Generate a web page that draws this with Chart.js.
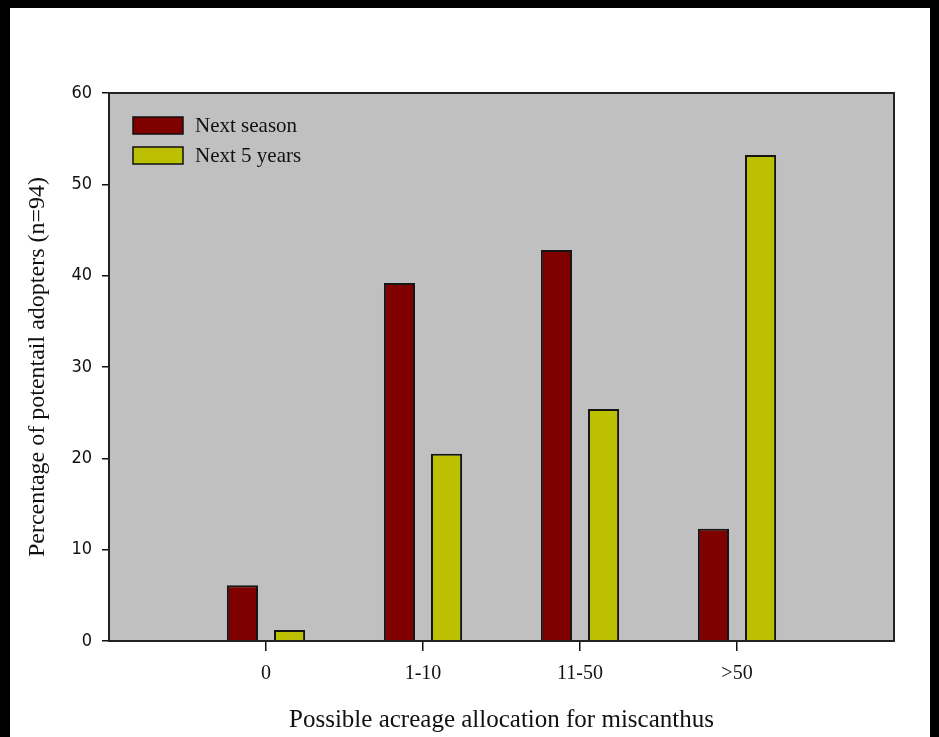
<!DOCTYPE html>
<html>
<head>
<meta charset="utf-8">
<script src="https://cdn.jsdelivr.net/npm/chart.js@4"></script>
<style>
  html, body { margin: 0; padding: 0; background: #000; }
  #frame { position: absolute; left: 10px; top: 8px; width: 920px; height: 729px; background: #fff; }
</style>
</head>
<body>
<div id="frame"><canvas id="acreageChart"></canvas></div>
<script>
// categories on the x axis
const categories = ["0", "1-10", "11-50", ">50"];
// percentage of potential adopters for each category
const nextSeason = [6.1, 39.2, 42.8, 12.3];
const nextFiveYears = [1.2, 20.5, 25.4, 53.2];
const seriesNames = ["Next season", "Next 5 years"];
const yTicks = [0, 10, 20, 30, 40, 50, 60];

// the axis has an empty slot at each end, so pad the labels
const labels = ["", ...categories, ""];
const pad = (arr) => [null, ...arr, null];

const serif = "'Liberation Serif', 'Times New Roman', serif";

// gray plot area, frame and the legend inside it
const plotArea = {
  id: "plotArea",
  beforeDraw(chart) {
    const { ctx, chartArea: a } = chart;
    ctx.save();
    ctx.fillStyle = "#c0c0c0";
    ctx.fillRect(a.left, a.top, a.right - a.left, a.bottom - a.top);
    ctx.restore();
  },
  afterDatasetsDraw(chart) {
    const { ctx, chartArea: a } = chart;
    ctx.save();
    ctx.strokeStyle = "#222";
    ctx.lineWidth = 2;
    ctx.strokeRect(a.left, a.top, a.right - a.left, a.bottom - a.top);

    // legend
    ctx.font = "21px " + serif;
    ctx.textBaseline = "middle";
    ctx.textAlign = "left";
    chart.data.datasets.forEach((ds, i) => {
      const x = a.left + 24;
      const y = a.top + 24 + i * 30;
      ctx.fillStyle = ds.backgroundColor;
      ctx.fillRect(x, y, 50, 17);
      ctx.lineWidth = 1.5;
      ctx.strokeStyle = "#111";
      ctx.strokeRect(x, y, 50, 17);
      ctx.fillStyle = "#111";
      ctx.fillText(ds.label, x + 62, y + 9);
    });
    ctx.restore();
  }
};

const config = {
  type: "bar",
  data: {
    labels: labels,
    datasets: [
      {
        label: seriesNames[0],
        data: pad(nextSeason),
        backgroundColor: "#800000",
        borderColor: "#151515",
        borderWidth: 2,
        categoryPercentage: 0.6,
        barPercentage: 0.66,
      },
      {
        label: seriesNames[1],
        data: pad(nextFiveYears),
        backgroundColor: "#bcc000",
        borderColor: "#151515",
        borderWidth: 2,
        categoryPercentage: 0.6,
        barPercentage: 0.66,
      },
    ],
  },
  options: {
    responsive: true,
    maintainAspectRatio: false,
    animation: false,
    layout: { padding: { left: 0, top: 85, right: 36, bottom: 0 } },
    plugins: {
      legend: { display: false },
      tooltip: { enabled: false },
    },
    scales: {
      x: {
        offset: false,
        grid: {
          offset: false,
          drawOnChartArea: false,
          drawTicks: true,
          tickLength: 10,
          lineWidth: 1.5,
          color: (c) => (c.index === 0 || c.index === labels.length - 1 ? "transparent" : "#111"),
        },
        border: { display: false },
        ticks: { color: "#111", padding: 11, maxRotation: 0, autoSkip: false, font: { family: serif, size: 20 } },
        title: {
          display: true,
          text: "Possible acreage allocation for miscanthus",
          color: "#111",
          font: { family: serif, size: 25 },
          padding: { top: 0, bottom: 2 },
        },
        afterFit: (s) => { s.height = 96; },
      },
      y: {
        min: 0,
        max: 60,
        afterBuildTicks: (s) => { s.ticks = yTicks.map((v) => ({ value: v })); },
        grid: { drawOnChartArea: false, drawTicks: true, tickLength: 7, lineWidth: 1.5, color: "#111" },
        border: { display: false },
        ticks: {
          color: "#111",
          padding: 10,
          font: { family: "'Liberation Sans Narrow', 'DejaVu Sans Condensed', sans-serif", size: 18 },
        },
        title: {
          display: true,
          text: "Percentage of potentail adopters (n=94)",
          color: "#111",
          font: { family: serif, size: 24 },
          padding: { top: 13, bottom: 0 },
        },
        afterFit: (s) => { s.width = 99; },
      },
    },
  },
  plugins: [plotArea],
};

new Chart(document.getElementById("acreageChart").getContext("2d"), config);
</script>
</body>
</html>
